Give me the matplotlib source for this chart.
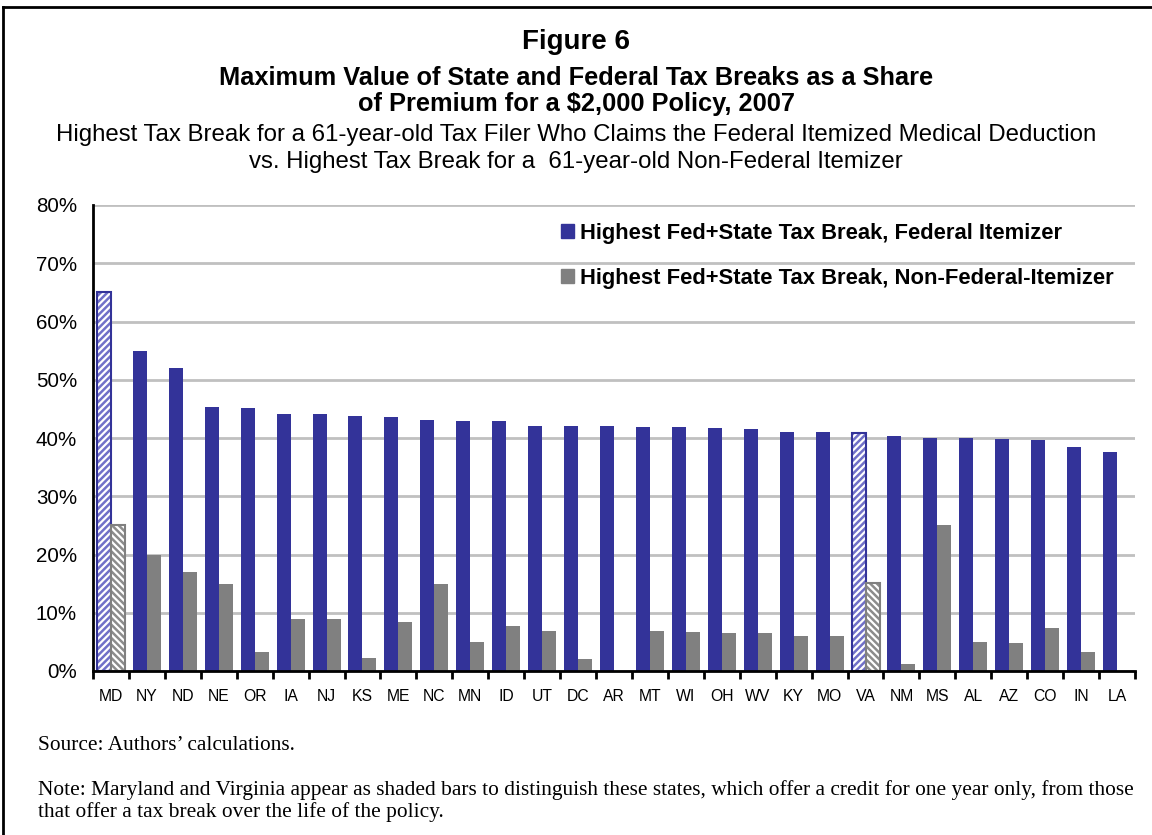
import matplotlib.pyplot as plt
import numpy as np
from matplotlib.patches import Patch
from matplotlib.ticker import FuncFormatter

states = ["MD", "NY", "ND", "NE", "OR", "IA", "NJ", "KS", "ME", "NC", "MN", "ID", "UT", "DC", "AR",
          "MT", "WI", "OH", "WV", "KY", "MO", "VA", "NM", "MS", "AL", "AZ", "CO", "IN", "LA"]
itemizer = [65.0, 55.0, 52.0, 45.3, 45.1, 44.1, 44.1, 43.8, 43.6, 43.1, 42.9, 42.9, 42.0, 42.0, 42.0,
            41.9, 41.9, 41.7, 41.5, 41.0, 41.0, 40.9, 40.3, 40.0, 40.0, 39.8, 39.6, 38.5, 37.6]
non_itemizer = [25.0, 20.0, 17.0, 15.0, 3.3, 9.0, 9.0, 2.2, 8.4, 15.0, 5.0, 7.7, 6.9, 2.1, 0.0,
                6.9, 6.7, 6.5, 6.5, 6.0, 6.0, 15.1, 1.2, 25.0, 5.0, 4.8, 7.4, 3.3, 0.0]
shaded = ["MD", "VA"]

BLUE = "#333399"
GRAY = "#808080"

plt.rcParams['font.family'] = ['Liberation Sans', 'DejaVu Sans']
plt.rcParams['hatch.linewidth'] = 1.8

fig = plt.figure(figsize=(11.52, 8.35), dpi=100)
ax = fig.add_axes([93/1152, 1 - 671/835, (1135 - 93)/1152, (671 - 205)/835])

x = np.arange(len(states))
w = 0.39
for i, s in enumerate(states):
    if s in shaded:
        # one-year credit states: hatched bars
        ax.bar(x[i] - w/2, itemizer[i], w, color="white", edgecolor="#7070c8", hatch="/////", linewidth=0)
        ax.bar(x[i] - w/2, itemizer[i], w, fill=False, edgecolor=BLUE, linewidth=1.5)
        ax.bar(x[i] + w/2, non_itemizer[i], w, color="white", edgecolor="#8c8c8c", hatch="\\\\\\\\\\", linewidth=0)
        ax.bar(x[i] + w/2, non_itemizer[i], w, fill=False, edgecolor=GRAY, linewidth=1.5)
    else:
        ax.bar(x[i] - w/2, itemizer[i], w, color=BLUE, linewidth=0)
        ax.bar(x[i] + w/2, non_itemizer[i], w, color=GRAY, linewidth=0)

ax.set_xlim(-0.5, len(states) - 0.5)
ax.set_ylim(0, 80)
ax.set_yticks(np.arange(0, 81, 10))
ax.yaxis.set_major_formatter(FuncFormatter(lambda v, p: f"{v:.0f}%"))
ax.yaxis.grid(True, color="#c0c0c0", linewidth=2)
ax.set_axisbelow(True)
ax.tick_params(axis="y", length=0, pad=11.5, labelsize=14.8)

ax.set_xticks(np.arange(-0.5, len(states), 1))
ax.set_xticklabels([])
ax.set_xticks(x, minor=True)
ax.set_xticklabels(states, minor=True)
ax.tick_params(axis="x", which="major", length=6, width=2, direction="out")
ax.tick_params(axis="x", which="minor", length=0, pad=13, labelsize=11.3)

for side in ["top", "right"]:
    ax.spines[side].set_visible(False)
ax.spines["left"].set_linewidth(2)
ax.spines["bottom"].set_linewidth(2)

handles = [Patch(color=BLUE, label="Highest Fed+State Tax Break, Federal Itemizer"),
           Patch(color=GRAY, label="Highest Fed+State Tax Break, Non-Federal-Itemizer")]
fig.legend(handles=handles, loc="upper left", bbox_to_anchor=(561/1152, 1 - 223/835),
           frameon=False, prop={"weight": "bold", "size": 15.8}, handlelength=0.6, handleheight=0.6,
           handletextpad=0.25, labelspacing=1.1, borderpad=0, borderaxespad=0)

fig.text(0.5, 1 - 42/835, "Figure 6", ha="center", va="center", fontsize=20, fontweight="bold")
fig.text(0.5, 1 - 78/835, "Maximum Value of State and Federal Tax Breaks as a Share",
         ha="center", va="center", fontsize=18.3, fontweight="bold")
fig.text(0.5, 1 - 104/835, "of Premium for a $2,000 Policy, 2007",
         ha="center", va="center", fontsize=18.3, fontweight="bold")
fig.text(0.5, 1 - 135/835,
         "Highest Tax Break for a 61-year-old Tax Filer Who Claims the Federal Itemized Medical Deduction",
         ha="center", va="center", fontsize=17.3)
fig.text(0.5, 1 - 162/835, "vs. Highest Tax Break for a  61-year-old Non-Federal Itemizer",
         ha="center", va="center", fontsize=17.3)

serif = ["Liberation Serif", "DejaVu Serif"]
fig.text(38/1152, 1 - 746/835, "Source: Authors\u2019 calculations.", ha="left", va="center",
         fontsize=15.4, family=serif)
fig.text(38/1152, 1 - 790/835,
         "Note: Maryland and Virginia appear as shaded bars to distinguish these states, which offer a credit for one year only, from those",
         ha="left", va="center", fontsize=15.4, family=serif)
fig.text(38/1152, 1 - 812/835, "that offer a tax break over the life of the policy.",
         ha="left", va="center", fontsize=15.4, family=serif)

# frame lines on top and left
fig.add_artist(plt.Line2D([3/1152, 3/1152], [0, 1 - 7/835], color="black", linewidth=2))
fig.add_artist(plt.Line2D([3/1152, 1], [1 - 7/835, 1 - 7/835], color="black", linewidth=2))

fig.savefig("out.png", dpi=100)
